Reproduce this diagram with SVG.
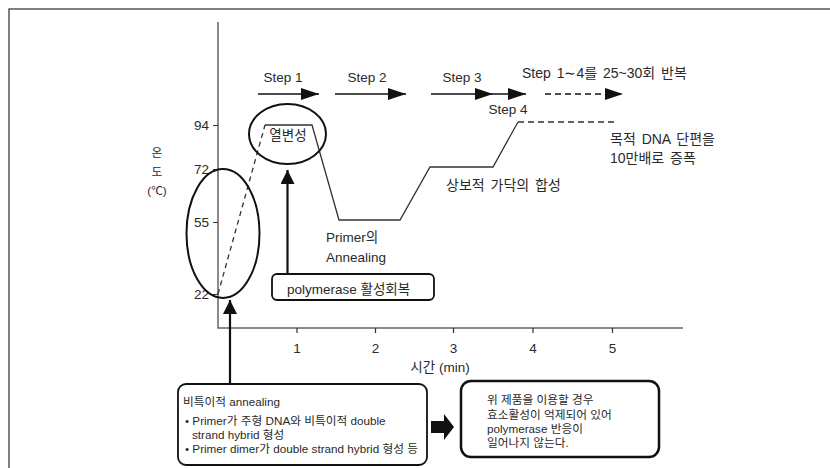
<svg xmlns="http://www.w3.org/2000/svg" width="830" height="468" viewBox="0 0 830 468">
<style>
text{font-family:"Liberation Sans","Noto Sans CJK KR",sans-serif;fill:#2a2a2a;font-size:13.5px}
.s{font-size:11.7px}
.l{font-size:14px;word-spacing:2px}
.ax{stroke:#666;stroke-width:1.5;fill:none}
.tk{stroke:#333;stroke-width:1.2}
.cv{stroke:#333;stroke-width:1.3;fill:none}
.ar{stroke:#111;stroke-width:1.5;fill:none}
</style>
<defs>
<marker id="ah" viewBox="0 0 18 12" refX="18" refY="6" markerWidth="18" markerHeight="12" markerUnits="userSpaceOnUse" orient="auto"><path d="M0,0L18,6L0,12Z" fill="#111"/></marker>
<marker id="ah2" viewBox="0 0 14 14" refX="14" refY="7" markerWidth="14" markerHeight="14" markerUnits="userSpaceOnUse" orient="auto"><path d="M0,0L14,7L0,14Z" fill="#111"/></marker>
</defs>
<rect width="830" height="468" fill="#fff"/>
<path d="M9,468V9H830" fill="none" stroke="#555" stroke-width="1.5"/>

<g id="axes">
<path class="ax" d="M218,22V328H683"/>
<path class="tk" d="M213,125.5H218M213,169.5H218M213,222.5H218M213,294.5H218M297,328V333M375.5,328V333M453.5,328V333M533,328V333M612.5,328V333"/>
<g text-anchor="end"><text x="209" y="130">94</text><text x="209" y="174">72</text><text x="209" y="227">55</text><text x="209" y="299">22</text></g>
<g text-anchor="middle"><text x="297" y="353">1</text><text x="375.5" y="353">2</text><text x="453.5" y="353">3</text><text x="533" y="353">4</text><text x="612.5" y="353">5</text>
<text x="440" y="372">시간 (min)</text>
<text x="157" y="157" class="s">온</text><text x="157" y="176" class="s">도</text><text x="157" y="195" class="s">(℃)</text></g>
</g>

<g id="curve">
<path class="cv" d="M218,294L265,125" stroke-dasharray="5,4"/>
<path class="cv" d="M265,125H312L339,220H400L430,167H493L518,122"/>
<path class="cv" d="M518,122H617" stroke-dasharray="6,4"/>
</g>

<g id="connectors">
<path class="ar" d="M258,94H319" marker-end="url(#ah)"/>
<path class="ar" d="M335,94H406" marker-end="url(#ah)"/>
<path class="ar" d="M431,94H493" marker-end="url(#ah)"/>
<path class="ar" d="M493,94H526" marker-end="url(#ah)"/>
<path class="ar" d="M545,94H623" stroke-dasharray="6,4" marker-end="url(#ah)"/>
<path d="M230,384V300" stroke="#111" stroke-width="2.2" marker-end="url(#ah2)"/>
<path d="M287.5,274V170" stroke="#111" stroke-width="2.2" marker-end="url(#ah2)"/>
<path d="M431,421H444V414L454,427L444,440V433H431Z" fill="#111"/>
</g>

<g id="steps">
<text x="283" y="82" text-anchor="middle">Step 1</text>
<text x="367" y="82" text-anchor="middle">Step 2</text>
<text x="462" y="82" text-anchor="middle">Step 3</text>
<text x="508" y="114" text-anchor="middle">Step 4</text>
<text class="l" x="522" y="78">Step 1∼4를 25~30회 반복</text>
</g>

<g id="denature">
<ellipse cx="287.5" cy="134" rx="38.5" ry="30" fill="none" stroke="#111" stroke-width="2"/>
<text x="288" y="140" text-anchor="middle">열변성</text>
</g>

<g id="lowtemp">
<ellipse cx="223" cy="233.5" rx="36.5" ry="64.5" fill="none" stroke="#111" stroke-width="2"/>
</g>

<g id="labels">
<text x="326" y="242">Primer의</text>
<text x="326" y="262">Annealing</text>
<text class="l" x="446" y="190">상보적 가닥의 합성</text>
<text class="l" x="610" y="144">목적 DNA 단편을</text>
<text class="l" x="610" y="163">10만배로 증폭</text>
</g>

<g id="polymerase">
<rect x="272" y="274" width="162" height="26" rx="5" fill="#fff" stroke="#111" stroke-width="1.8"/>
<text x="287" y="293.5">polymerase 활성회복</text>
</g>

<g id="nonspecific">
<rect x="178" y="384" width="249" height="81" rx="8" fill="#fff" stroke="#111" stroke-width="1.8"/>
<text class="s" x="183" y="406">비특이적 annealing</text>
<text class="s" x="185" y="424.5">• Primer가 주형 DNA와 비특이적 double</text>
<text class="s" x="192" y="439">strand hybrid 형성</text>
<text class="s" x="185" y="453">• Primer dimer가 double strand hybrid 형성 등</text>
</g>

<g id="result">
<rect x="461" y="381" width="198" height="76" rx="10" fill="#fff" stroke="#111" stroke-width="2.5"/>
<text class="s" x="487" y="404">위 제품을 이용할 경우</text>
<text class="s" x="487" y="418.5">효소활성이 억제되어 있어</text>
<text class="s" x="487" y="432.5">polymerase 반응이</text>
<text class="s" x="487" y="446.5">일어나지 않는다.</text>
</g>
</svg>
